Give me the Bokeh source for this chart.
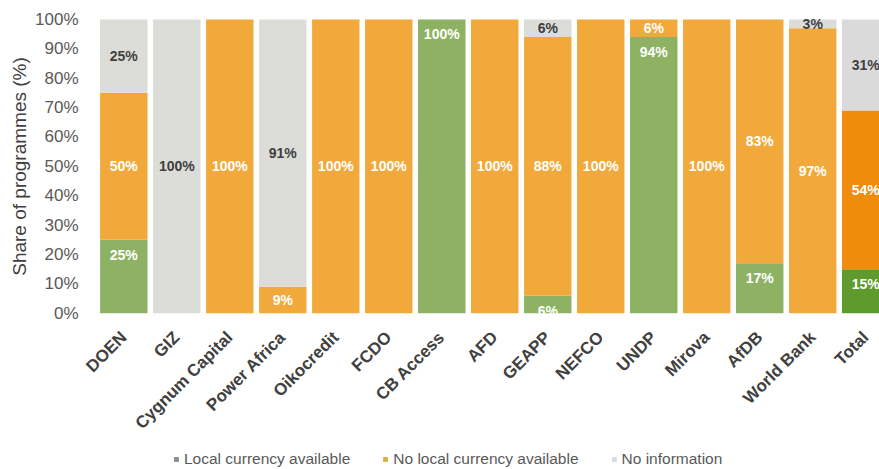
from bokeh.plotting import figure
from bokeh.layouts import column
from bokeh.models import Range1d, ColumnDataSource, Legend, LegendItem, FixedTicker
from bokeh.embed import file_html
from bokeh.resources import INLINE
from bokeh.core.properties import value

categories = ["DOEN", "GIZ", "Cygnum Capital", "Power Africa", "Oikocredit", "FCDO",
              "CB Access", "AFD", "GEAPP", "NEFCO", "UNDP", "Mirova", "AfDB",
              "World Bank", "Total"]
local_currency = [25, 0, 0, 0, 0, 0, 100, 0, 6, 0, 94, 0, 17, 0, 15]
no_local_currency = [50, 0, 100, 9, 100, 100, 0, 100, 88, 100, 6, 100, 83, 97, 54]
no_information = [25, 100, 0, 91, 0, 0, 0, 0, 6, 0, 0, 0, 0, 3, 31]
y_ticks = [0, 10, 20, 30, 40, 50, 60, 70, 80, 90, 100]

legend_labels = ["Local currency available", "No local currency available", "No information"]

GREEN, ORANGE, GREY = "#8db263", "#f2a93c", "#dcdcd8"
GREEN_T, ORANGE_T, GREY_T = "#5f9a2c", "#ef8c0c", "#dadada"
FONT = "Liberation Sans"

n = len(categories)
xs = list(range(n))
g_col = [GREEN] * (n - 1) + [GREEN_T]
o_col = [ORANGE] * (n - 1) + [ORANGE_T]
i_col = [GREY] * (n - 1) + [GREY_T]

g_top = local_currency
o_bot = local_currency
o_top = [a + b for a, b in zip(local_currency, no_local_currency)]
i_bot = o_top
i_top = [a + b for a, b in zip(o_top, no_information)]

p = figure(width=879, height=443, output_backend="svg", toolbar_location=None,
           x_range=Range1d(-0.534, 14.26), y_range=Range1d(-0.4, 100.3),
           min_border_top=18, min_border_left=95, min_border_right=0, min_border_bottom=129)
p.outline_line_color = None
p.background_fill_color = "white"
p.border_fill_color = "white"
p.xgrid.grid_line_color = None
p.ygrid.grid_line_color = None

W = 0.895
src = ColumnDataSource(dict(x=xs, g_top=g_top, o_bot=o_bot, o_top=o_top, i_bot=i_bot, i_top=i_top,
                            gc=g_col, oc=o_col, ic=i_col))
p.vbar(x="x", width=W, bottom=0, top="g_top", fill_color="gc", line_color=None, source=src)
p.vbar(x="x", width=W, bottom="o_bot", top="o_top", fill_color="oc", line_color=None, source=src)
p.vbar(x="x", width=W, bottom="i_bot", top="i_top", fill_color="ic", line_color=None, source=src)

# segment labels
lx, ly, lt, lc, loff = [], [], [], [], []
for i in range(n):
    if local_currency[i] > 0:
        lx.append(i); ly.append(g_top[i]); lt.append(f"{local_currency[i]}%"); lc.append("white"); loff.append(15)
    if no_local_currency[i] > 0:
        lx.append(i); ly.append((o_bot[i] + o_top[i]) / 2); lt.append(f"{no_local_currency[i]}%"); lc.append("white"); loff.append(0)
    if no_information[i] > 0:
        lx.append(i); ly.append((i_bot[i] + i_top[i]) / 2); lt.append(f"{no_information[i]}%"); lc.append("#404040"); loff.append(0)
lsrc = ColumnDataSource(dict(x=lx, y=ly, t=lt, c=lc, off=loff))
p.text(x="x", y="y", text="t", text_color="c", y_offset="off", source=lsrc,
       text_align="center", text_baseline="middle", text_font=value(FONT),
       text_font_style="bold", text_font_size="14px")

# axes
p.xaxis.ticker = FixedTicker(ticks=xs)
p.xaxis.major_label_overrides = {i: c for i, c in enumerate(categories)}
p.xaxis.major_label_orientation = 0.785398
p.xaxis.major_label_text_font = FONT
p.xaxis.major_label_text_font_style = "bold"
p.xaxis.major_label_text_font_size = "17px"
p.xaxis.major_label_text_color = "#404040"
p.xaxis.major_label_standoff = 14
p.xaxis.axis_line_color = None
p.xaxis.major_tick_line_color = None
p.xaxis.minor_tick_line_color = None

p.yaxis.ticker = FixedTicker(ticks=y_ticks)
p.yaxis.major_label_overrides = {t: f"{t}%" for t in y_ticks}
p.yaxis.major_label_text_font = FONT
p.yaxis.major_label_text_font_size = "17px"
p.yaxis.major_label_text_color = "#595959"
p.yaxis.major_label_standoff = 11
p.yaxis.axis_line_color = None
p.yaxis.major_tick_line_color = None
p.yaxis.minor_tick_line_color = None
p.yaxis.axis_label = "Share of programmes (%)"
p.yaxis.axis_label_text_font = FONT
p.yaxis.axis_label_text_font_style = "normal"
p.yaxis.axis_label_text_font_size = "19px"
p.yaxis.axis_label_text_color = "#404040"
p.yaxis.axis_label_standoff = 2

# legend in its own strip below the chart
lg = figure(width=879, height=26, output_backend="svg", toolbar_location=None,
            x_range=Range1d(0, 1), y_range=Range1d(0, 1),
            x_axis_location=None, y_axis_location=None,
            min_border_left=0, min_border_right=0, min_border_top=0, min_border_bottom=0)
lg.grid.visible = False
lg.outline_line_color = None
lg.background_fill_color = "white"
lg.border_fill_color = "white"
sw_colors = ["#8a8a8a", "#d4b23a", "#dadada"]
items = []
for lab, col in zip(legend_labels, sw_colors):
    r = lg.vbar(x=[0.5], width=0.0, top=[0], bottom=[0], fill_color=col, line_color=None)
    items.append(LegendItem(label=lab, renderers=[r]))
legend = Legend(items=items, orientation="horizontal", location=(78, 1),
                glyph_width=6, glyph_height=6, label_standoff=5, spacing=32,
                label_text_font=FONT, label_text_font_size="15.5px",
                label_text_color="#595959", border_line_color=None,
                background_fill_alpha=0, margin=0, padding=0)
lg.add_layout(legend, "center")

layout = column(p, lg, spacing=0)
open("out.html", "w").write(file_html(layout, INLINE))
